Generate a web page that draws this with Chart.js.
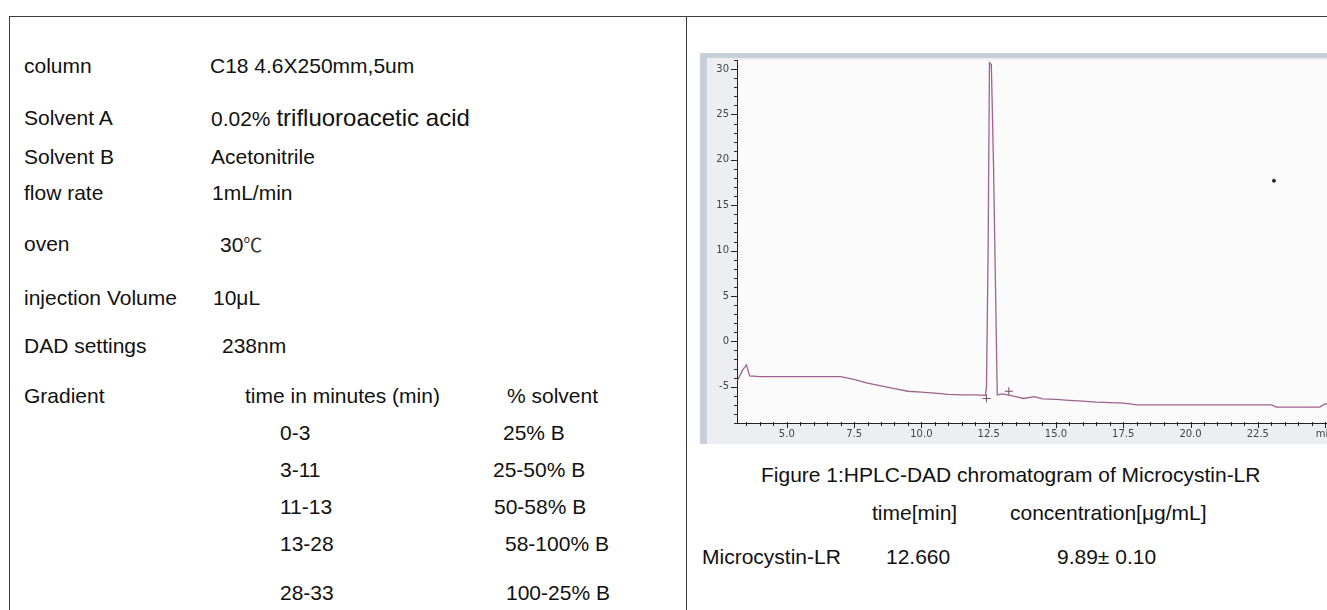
<!DOCTYPE html>
<html>
<head>
<meta charset="utf-8">
<script src="https://cdn.jsdelivr.net/npm/chart.js@4.4.0/dist/chart.umd.min.js"></script>
<style>
  body { margin: 0; width: 1327px; height: 610px; overflow: hidden; background: #fff; position: relative;
         font-family: "Liberation Sans", Arial, sans-serif; color: #111; }
  .t { position: absolute; font-size: 21px; line-height: 24px; white-space: nowrap; }
  .big { font-size: 24px; }
  .deg { font-family: "Noto Sans CJK SC", sans-serif; font-size: 19px; color: #333; }
  .rule { position: absolute; background: #3c3c3c; }
  #frame { position: absolute; left: 700px; top: 53px; width: 640px; height: 391px; background: #eceef1;
           border-top: 5px solid #c8cfd9; border-left: 7px solid #c8cfd9; box-sizing: border-box; }
  #chartBox { position: absolute; left: 707px; top: 50px; width: 650px; height: 393px; }
</style>
</head>
<body>

<!-- table rules -->
<div class="rule" style="left:9px;top:16px;width:1318px;height:1px"></div>
<div class="rule" style="left:9px;top:16px;width:1px;height:594px"></div>
<div class="rule" style="left:686px;top:16px;width:1px;height:594px"></div>

<!-- method conditions -->
<div class="t" style="left:24px;top:54px">column</div>
<div class="t" style="left:210px;top:54px">C18 4.6X250mm,5um</div>
<div class="t" style="left:24px;top:106px">Solvent A</div>
<div class="t" style="left:211px;top:106px">0.02% <span class="big">trifluoroacetic acid</span></div>
<div class="t" style="left:24px;top:145px">Solvent B</div>
<div class="t" style="left:211px;top:145px">Acetonitrile</div>
<div class="t" style="left:24px;top:181px">flow rate</div>
<div class="t" style="left:212px;top:181px">1mL/min</div>
<div class="t" style="left:24px;top:232px">oven</div>
<div class="t" style="left:220px;top:232px">30<span class="deg">℃</span></div>
<div class="t" style="left:24px;top:286px">injection Volume</div>
<div class="t" style="left:213px;top:286px">10μL</div>
<div class="t" style="left:24px;top:334px">DAD settings</div>
<div class="t" style="left:222px;top:334px">238nm</div>
<div class="t" style="left:24px;top:384px">Gradient</div>
<div class="t" style="left:245px;top:384px">time in minutes (min)</div>
<div class="t" style="left:507px;top:384px">% solvent</div>
<div class="t" style="left:280px;top:421px">0-3</div>
<div class="t" style="left:503px;top:421px">25% B</div>
<div class="t" style="left:280px;top:458px">3-11</div>
<div class="t" style="left:493px;top:458px">25-50% B</div>
<div class="t" style="left:280px;top:495px">11-13</div>
<div class="t" style="left:494px;top:495px">50-58% B</div>
<div class="t" style="left:280px;top:532px">13-28</div>
<div class="t" style="left:505px;top:532px">58-100% B</div>
<div class="t" style="left:280px;top:581px">28-33</div>
<div class="t" style="left:506px;top:581px">100-25% B</div>

<!-- chromatogram -->
<div id="frame"></div>
<div id="chartBox"><canvas id="hplcChart" width="650" height="393"></canvas></div>

<div class="t" style="left:761px;top:463px">Figure 1:HPLC-DAD chromatogram of Microcystin-LR</div>
<div class="t" style="left:872px;top:501px">time[min]</div>
<div class="t" style="left:1010px;top:501px">concentration[μg/mL]</div>
<div class="t" style="left:702px;top:545px">Microcystin-LR</div>
<div class="t" style="left:886px;top:545px">12.660</div>
<div class="t" style="left:1057px;top:545px">9.89± 0.10</div>

<script>
// Trace (time in min, signal in mAU)
const times = [3.17, 3.35, 3.50, 3.62, 4.0, 5.0, 6.0, 7.0, 7.5, 8.0, 8.5, 9.0, 9.5, 10.0, 10.5, 11.0, 11.5, 12.0,
               12.38, 12.42, 12.48, 12.53, 12.60, 12.68, 12.76, 12.82, 13.0, 13.2, 13.5, 13.8, 14.2, 14.5, 15.0,
               15.5, 16.0, 16.5, 17.0, 17.5, 17.75, 18.0, 19.0, 20.0, 21.0, 22.0, 23.0, 23.2, 24.0, 24.8, 25.0, 25.5];
const signal = [-4.3, -3.2, -2.6, -3.8, -3.9, -3.9, -3.9, -3.9, -4.2, -4.6, -4.9, -5.2, -5.5, -5.6, -5.7, -5.85, -5.9, -5.9,
                -5.95, -5.0, 10, 30.7, 30.5, 19.5, 5, -5.9, -5.8, -5.9, -6.1, -6.3, -6.1, -6.35, -6.4,
                -6.5, -6.6, -6.7, -6.75, -6.8, -6.9, -7.0, -7.0, -7.0, -7.0, -7.0, -7.0, -7.25, -7.25, -7.25, -6.9, -6.9];

// Integration marks and the stray dot
const markTimes = [12.42, 13.25];
const markValues = [-6.3, -5.5];
const dotTimes = [23.1];
const dotValues = [17.7];

// Axis ticks
const xTickValues = [5, 7.5, 10, 12.5, 15, 17.5, 20, 22.5, 25];
const xTickLabels = ['5.0', '7.5', '10.0', '12.5', '15.0', '17.5', '20.0', '22.5', 'min'];
const yTickValues = [-5, 0, 5, 10, 15, 20, 25, 30];
const yTickLabels = ['-5', '0', '5', '10', '15', '20', '25', '30'];

function toPoints(xs, ys) {
    return xs.map((x, i) => ({ x: x, y: ys[i] }));
}

// plot background + minor/major tick marks
const axisTicks = {
    id: 'axisTicks',
    beforeDraw(chart) {
        const { ctx, chartArea: a } = chart;
        ctx.save();
        ctx.fillStyle = '#fbfbfc';
        ctx.fillRect(a.left, a.top, a.right - a.left, a.bottom - a.top);
        ctx.restore();
    },
    afterDraw(chart) {
        const { ctx, chartArea: a, scales: { x, y } } = chart;
        ctx.save();
        ctx.strokeStyle = '#222';
        ctx.lineWidth = 1;
        ctx.beginPath();
        for (let v = Math.ceil(x.min * 2) / 2; v <= x.max; v += 0.5) {
            const px = Math.round(x.getPixelForValue(v)) + 0.5;
            const major = Math.abs(v / 2.5 - Math.round(v / 2.5)) < 1e-6;
            ctx.moveTo(px, a.bottom - 1);
            ctx.lineTo(px, a.bottom + (major ? 5 : 3));
        }
        for (let v = Math.ceil(y.min); v <= y.max; v += 1) {
            const py = Math.round(y.getPixelForValue(v)) + 0.5;
            const major = v % 5 === 0;
            ctx.moveTo(a.left - (major ? 6 : 3), py);
            ctx.lineTo(a.left + 1, py);
        }
        ctx.stroke();
        ctx.restore();
    }
};

const ctx = document.getElementById('hplcChart').getContext('2d');
new Chart(ctx, {
    data: {
        datasets: [{
            type: 'line',
            data: toPoints(times, signal),
            borderColor: '#a0628e',
            borderWidth: 1.3,
            pointRadius: 0,
            tension: 0
        }, {
            type: 'scatter',
            data: toPoints(markTimes, markValues),
            pointStyle: 'cross',
            pointRadius: 4,
            borderColor: '#7a4a6a',
            borderWidth: 1
        }, {
            type: 'scatter',
            data: toPoints(dotTimes, dotValues),
            pointRadius: 1.5,
            backgroundColor: '#222',
            borderColor: '#222'
        }]
    },
    options: {
        responsive: false,
        animation: false,
        layout: { padding: 0 },
        plugins: { legend: { display: false }, tooltip: { enabled: false } },
        scales: {
            x: {
                type: 'linear',
                min: 3.15,
                max: 26,
                afterBuildTicks: s => { s.ticks = xTickValues.map(v => ({ value: v })); },
                afterFit: s => { s.height = 20; },
                grid: { drawOnChartArea: false, drawTicks: true, tickLength: 4, color: 'rgba(0,0,0,0)' },
                border: { display: true, color: '#222', width: 1 },
                ticks: {
                    autoSkip: false,
                    maxRotation: 0,
                    padding: 1,
                    color: '#444',
                    font: { family: 'DejaVu Sans', size: 10 },
                    callback: (v) => xTickLabels[xTickValues.indexOf(v)]
                }
            },
            y: {
                type: 'linear',
                min: -9,
                max: 31,
                afterBuildTicks: s => { s.ticks = yTickValues.map(v => ({ value: v })); },
                afterFit: s => { s.width = 30; },
                grid: { drawOnChartArea: false, drawTicks: true, tickLength: 4, color: 'rgba(0,0,0,0)' },
                border: { display: true, color: '#222', width: 1 },
                ticks: {
                    autoSkip: false,
                    padding: 4,
                    color: '#444',
                    font: { family: 'DejaVu Sans', size: 10 },
                    callback: (v) => yTickLabels[yTickValues.indexOf(v)]
                }
            }
        }
    },
    plugins: [axisTicks]
});
</script>
</body>
</html>
